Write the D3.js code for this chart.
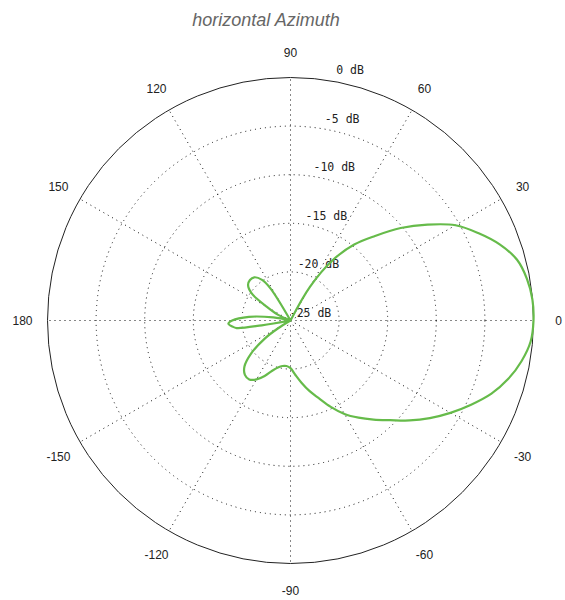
<!DOCTYPE html>
<html>
<head>
<meta charset="utf-8">
<script src="https://cdn.jsdelivr.net/npm/d3@7/dist/d3.min.js"></script>
<style>
  html, body { margin: 0; padding: 0; background: #ffffff; }
  svg { display: block; }
</style>
</head>
<body>
<svg id="chart" width="565" height="600"></svg>
<script>
// ---- data ----
const chartTitle = "horizontal Azimuth";
// azimuth angle in degrees (counter-clockwise from 0 at the right)
const angleDeg = [0,5,10,15,20,25,30,35,40,45,50,55,60,63,90,119,122,125,130,135,140,145,150,155,160,
  166,170,175,180,183,186,188,189.5,192,208,212,215,220,225,230,235,240,245,250,255,260,265,270,275,
  280,285,290,295,300,305,310,315,320,325,330,335,340,345,350,355];
// relative gain in dB
const gainDb = [0,-0.02,-0.3,-0.87,-2.1,-3.7,-5.4,-7.8,-10.2,-12.7,-14.8,-17.4,-21.0,-25,-25,-25,-21.1,-19.9,-19.2,-19.1,-19.3,-20.1,-22.2,-23.5,-25,
  -25,-23.2,-20.7,-19.0,-18.6,-19.0,-19.4,-22.0,-25,-25,-23.5,-21.8,-19.7,-18.3,-17.7,-17.6,-18.0,-18.7,-19.5,-20.0,-20.25,-20.3,-20.1,-19.4,
  -18.5,-17.5,-16.5,-15.2,-13.9,-12.8,-11.7,-10.5,-9.0,-7.5,-6.0,-4.5,-3.0,-1.8,-0.87,-0.2];
const ringDb = [0, -5, -10, -15, -20, -25];
const ringLabels = ["0 dB", "-5 dB", "-10 dB", "-15 dB", "-20 dB", "-25 dB"];
const spokeAngles = [0, 30, 60, 90, 120, 150, 180, 210, 240, 270, 300, 330];
const spokeLabels = ["0", "30", "60", "90", "120", "150", "180", "-150", "-120", "-90", "-60", "-30"];

// ---- layout ----
const cx = 290.5, cy = 320.5, R = 243;
const svg = d3.select("#chart");
const g = svg.append("g").attr("transform", `translate(${cx},${cy})`);

const r = d3.scaleLinear().domain([-25, 0]).range([0, R]).clamp(true);
const toRad = d => d * Math.PI / 180;

// title
svg.append("text")
  .attr("x", 266).attr("y", 26)
  .attr("text-anchor", "middle")
  .attr("font-family", "Liberation Sans, Arial, sans-serif")
  .attr("font-style", "italic")
  .attr("font-size", 18)
  .attr("fill", "#666")
  .text(chartTitle);

// dotted rings
g.selectAll("circle.ring")
  .data(ringDb.filter(d => d > -25 && d < 0))
  .enter().append("circle")
  .attr("class", "ring")
  .attr("r", d => r(d))
  .attr("fill", "none")
  .attr("stroke", "#111")
  .attr("stroke-width", 1)
  .attr("stroke-dasharray", "1,4");

// dotted spokes
g.selectAll("line.spoke")
  .data(spokeAngles)
  .enter().append("line")
  .attr("class", "spoke")
  .attr("x1", 0).attr("y1", 0)
  .attr("x2", d => r(0) * Math.cos(toRad(d)))
  .attr("y2", d => -r(0) * Math.sin(toRad(d)))
  .attr("stroke", "#111")
  .attr("stroke-width", 1)
  .attr("stroke-dasharray", "1,4");

// outer circle
g.append("circle")
  .attr("r", r(0))
  .attr("fill", "none")
  .attr("stroke", "#222")
  .attr("stroke-width", 1);

// angle labels
g.selectAll("text.ang")
  .data(spokeAngles)
  .enter().append("text")
  .attr("class", "ang")
  .attr("x", d => (r(0) + 25) * Math.cos(toRad(d)))
  .attr("y", d => -(r(0) + 25) * Math.sin(toRad(d)) + 4.5 + (Math.sin(toRad(d)) < -0.5 ? 2 : 0))
  .attr("text-anchor", "middle")
  .attr("font-family", "Liberation Sans, Arial, sans-serif")
  .attr("font-size", 12)
  .attr("fill", "#222")
  .text((d, i) => spokeLabels[i]);

// dB labels
g.selectAll("text.db")
  .data(ringDb)
  .enter().append("text")
  .attr("class", "db")
  .attr("x", d => 20 + 0.163 * r(d))
  .attr("y", d => -r(d) - 7.5 + 4)
  .attr("text-anchor", "middle")
  .attr("font-family", "DejaVu Sans Mono, monospace")
  .attr("font-size", 11.5)
  .attr("fill", "#222")
  .text((d, i) => ringLabels[i]);

// pattern curve
const pts = angleDeg.map((a, i) => ({ a, v: gainDb[i] }));
const line = d3.lineRadial()
  .angle(d => toRad(90 - d.a))
  .radius(d => r(d.v))
  .curve(d3.curveCatmullRomClosed.alpha(0.5));

g.append("path")
  .datum(pts)
  .attr("d", line)
  .attr("fill", "none")
  .attr("stroke", "#66bb4a")
  .attr("stroke-width", 2.2)
  .attr("stroke-linejoin", "round");
</script>
</body>
</html>
